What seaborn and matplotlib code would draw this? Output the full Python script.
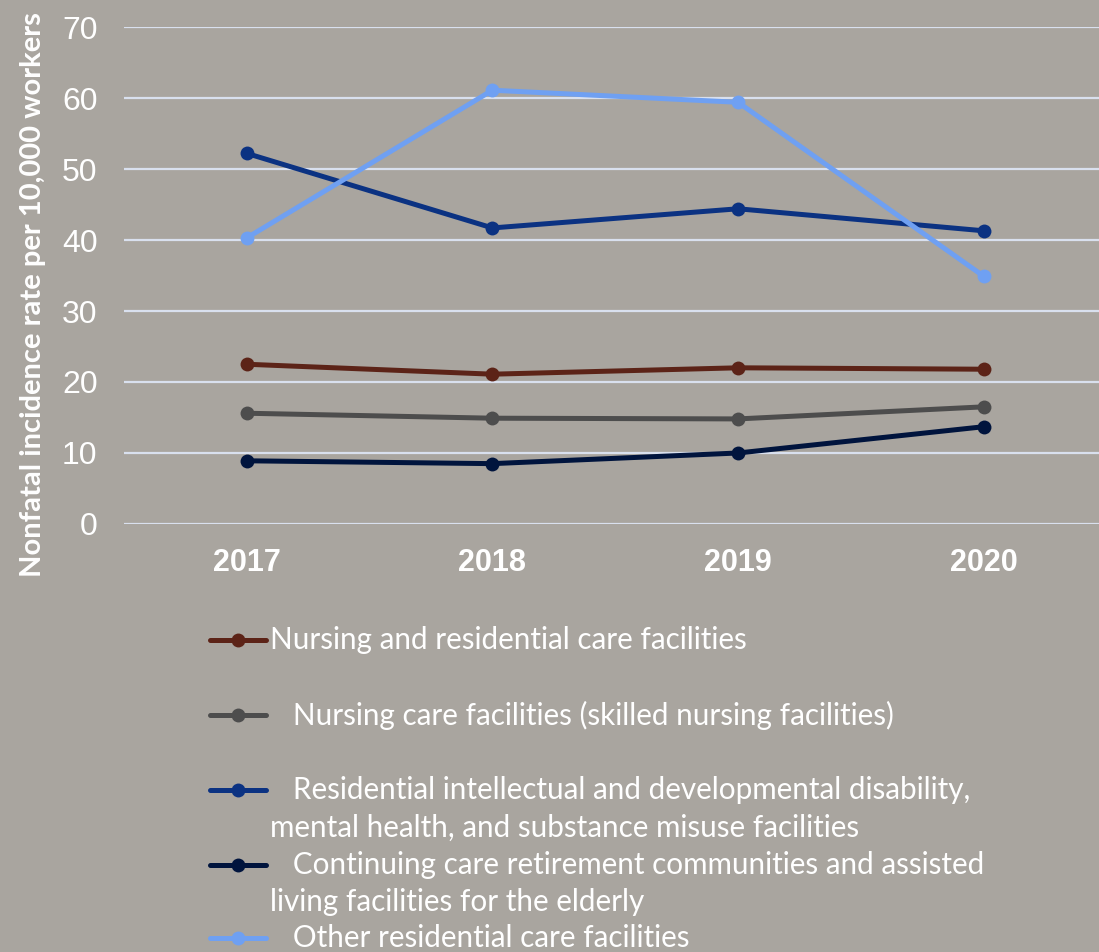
import matplotlib
matplotlib.use("Agg")
import matplotlib.pyplot as plt
import seaborn as sns
import pandas as pd
from matplotlib.lines import Line2D

years = [2017, 2018, 2019, 2020]
series_names = [
    "Nursing and residential care facilities",
    "Nursing care facilities (skilled nursing facilities)",
    "Residential intellectual and developmental disability, mental health, and substance misuse facilities",
    "Continuing care retirement communities and assisted living facilities for the elderly",
    "Other residential care facilities",
]
nursing_residential = [22.5, 21.1, 22.0, 21.8]
nursing_care = [15.6, 14.9, 14.8, 16.5]
residential_idd = [52.2, 41.7, 44.4, 41.3]
continuing_care = [8.9, 8.5, 10.0, 13.7]
other_residential = [40.3, 61.1, 59.4, 34.9]
legend_labels = [
    "Nursing and residential care facilities",
    "   Nursing care facilities (skilled nursing facilities)",
    "   Residential intellectual and developmental disability,\nmental health, and substance misuse facilities",
    "   Continuing care retirement communities and assisted\nliving facilities for the elderly",
    "   Other residential care facilities",
]
colors = ["#5C2317", "#4D4D4D", "#0B3282", "#00143D", "#6FA0F2"]
yticks = [0, 10, 20, 30, 40, 50, 60, 70]

values = [nursing_residential, nursing_care, residential_idd, continuing_care, other_residential]
df = pd.DataFrame([
    {"year": y, "series": n, "rate": v}
    for n, vals in zip(series_names, values)
    for y, v in zip(years, vals)
])

BG = "#A9A59F"
GRID = "#D9E0EE"
WHITE = "#FFFFFF"

sns.set_theme(style="white")
plt.rcParams["font.family"] = ["Liberation Sans", "DejaVu Sans"]

fig = plt.figure(figsize=(10.99, 9.52), dpi=100, facecolor=BG)
ax = fig.add_axes([0.1128, 0.4496, 0.894, 0.522])
ax.set_facecolor(BG)

for yv in yticks:
    ax.axhline(yv, color=GRID, lw=1.6, zorder=0)

sns.lineplot(data=df, x="year", y="rate", hue="series", hue_order=series_names,
             palette=colors, marker="o", markersize=10, markeredgewidth=0,
             linewidth=3.6, ax=ax, legend=False, zorder=3)

ax.set_xlim(2016.5, 2020.5)
ax.set_ylim(0, 70)
ax.set_xticks(years)
ax.set_xticklabels([str(y) for y in years], fontsize=22, fontweight="bold", color=WHITE)
ax.set_yticks(yticks)
ax.set_yticklabels([str(t) for t in yticks], fontsize=23, color=WHITE)
ax.tick_params(axis="both", length=0)
ax.tick_params(axis="x", pad=17)
ax.tick_params(axis="y", pad=19)
for s in ax.spines.values():
    s.set_visible(False)
ax.set_xlabel("")
ax.set_ylabel("")
fig.text(0.030, 0.691, "Nonfatal incidence rate per 10,000 workers", rotation=90,
         fontsize=21, fontweight="bold", color=WHITE, family=["Lato", "DejaVu Sans"],
         ha="center", va="center")

# legend
W, H = 1099, 952
entry_y = [640, 715, 790, 865, 938]
for c, lab, yy in zip(colors, legend_labels, entry_y):
    fy = 1 - yy / H
    fig.add_artist(Line2D([210 / W, 266 / W], [fy, fy], color=c, lw=3.6,
                          transform=fig.transFigure))
    fig.add_artist(Line2D([238 / W], [fy], color=c, marker="o", markersize=10,
                          markeredgewidth=0, transform=fig.transFigure))
    for i, ln in enumerate(lab.split("\n")):
        fig.text(270 / W, 1 - (yy + i * 37.5) / H, ln, fontsize=21.3, color=WHITE,
                 family=["Lato", "DejaVu Sans"], ha="left", va="center")

fig.savefig("out.png", dpi=100, facecolor=BG)
